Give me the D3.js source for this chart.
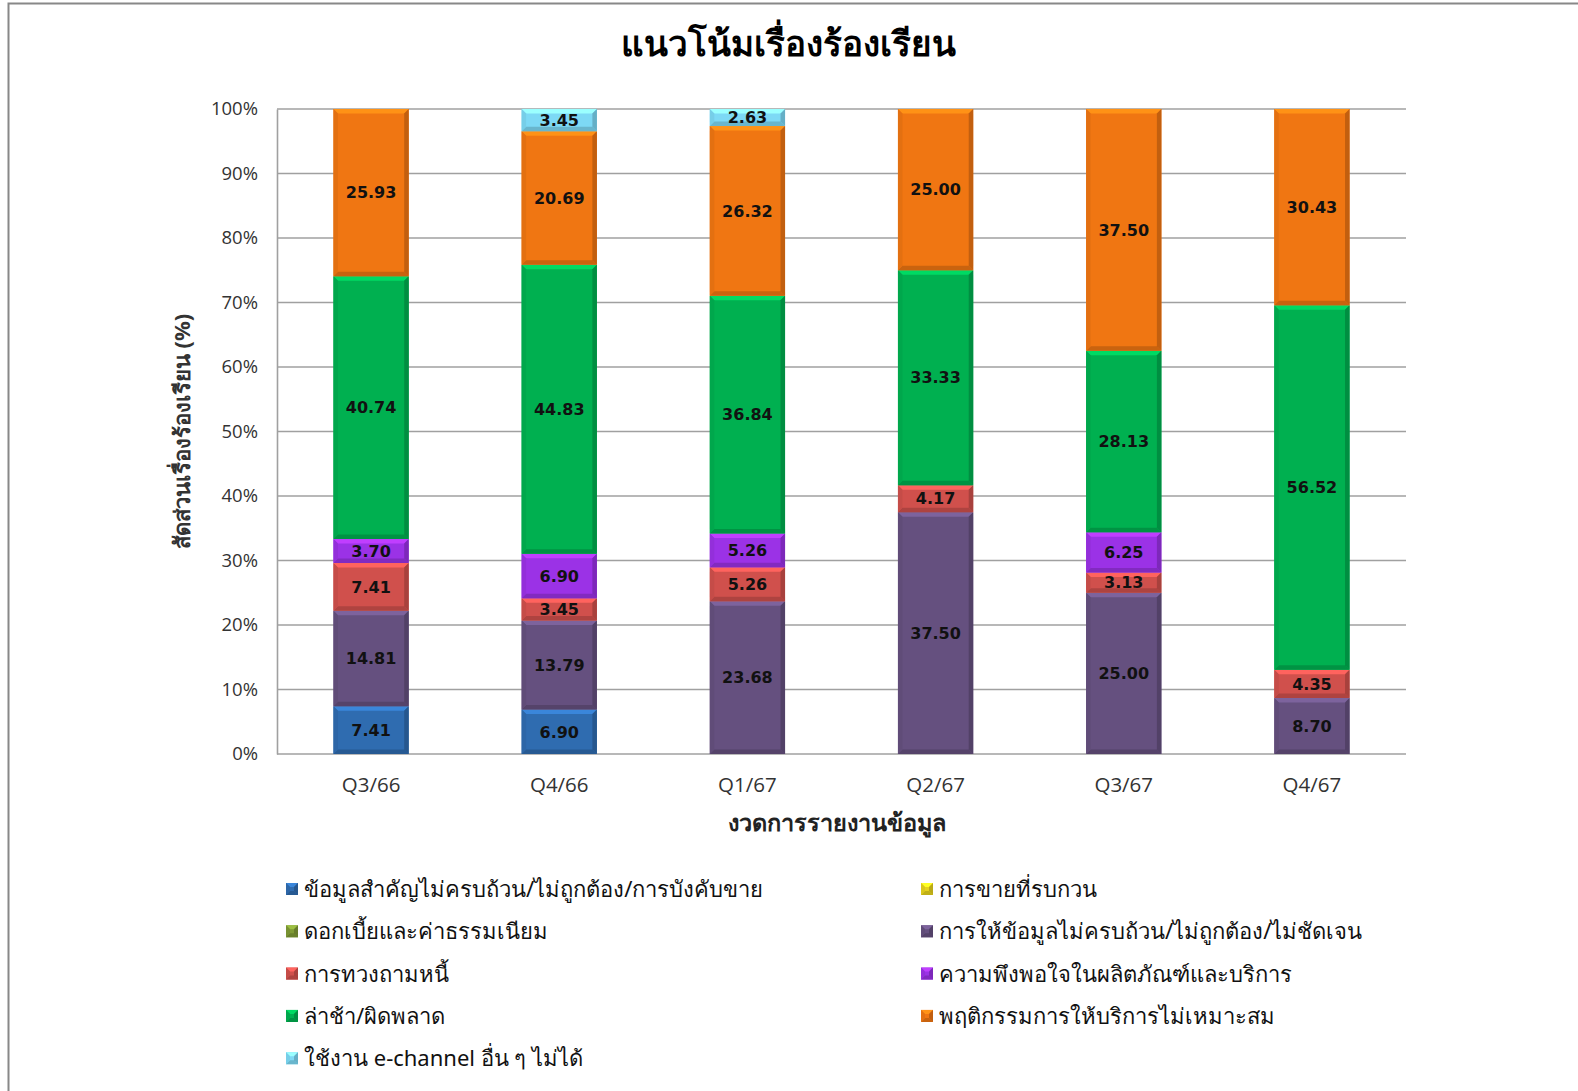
<!DOCTYPE html>
<html>
<head>
<meta charset="utf-8">
<script src="https://cdn.jsdelivr.net/npm/d3@7"></script>
<style>
  body { margin: 0; background: #fff; }
  svg { display: block; font-family: Tahoma, "Noto Sans", "DejaVu Sans", sans-serif; }
</style>
</head>
<body>
<div id="chart"></div>
<script>
// งวด
const periods = ["Q3/66", "Q4/66", "Q1/67", "Q2/67", "Q3/67", "Q4/67"];

// ชื่อชุดข้อมูล (ตามลำดับการซ้อนจากล่างขึ้นบน)
const seriesNames = [
    "ข้อมูลสำคัญไม่ครบถ้วน/ไม่ถูกต้อง/การบังคับขาย",
    "การขายที่รบกวน",
    "ดอกเบี้ยและค่าธรรมเนียม",
    "การให้ข้อมูลไม่ครบถ้วน/ไม่ถูกต้อง/ไม่ชัดเจน",
    "การทวงถามหนี้",
    "ความพึงพอใจในผลิตภัณฑ์และบริการ",
    "ล่าช้า/ผิดพลาด",
    "พฤติกรรมการให้บริการไม่เหมาะสม",
    "ใช้งาน e-channel อื่น ๆ ไม่ได้"
];
const seriesColors = ["#2f6cb0", "#e6d21c", "#7f9a35", "#65507f", "#d0504c", "#9b32e6", "#00b050", "#f07612", "#7dd9f5"];

// ค่าของแต่ละชุด (%)
const keyInfoValues   = [7.41, 6.90, 0, 0, 0, 0];
const disturbValues   = [0, 0, 0, 0, 0, 0];
const feeValues       = [0, 0, 0, 0, 0, 0];
const infoValues      = [14.81, 13.79, 23.68, 37.50, 25.00, 8.70];
const debtValues      = [7.41, 3.45, 5.26, 4.17, 3.13, 4.35];
const satisfyValues   = [3.70, 6.90, 5.26, 0, 6.25, 0];
const delayValues     = [40.74, 44.83, 36.84, 33.33, 28.13, 56.52];
const behaviorValues  = [25.93, 20.69, 26.32, 25.00, 37.50, 30.43];
const eChannelValues  = [0, 3.45, 2.63, 0, 0, 0];

const yTicks = [0, 10, 20, 30, 40, 50, 60, 70, 80, 90, 100];

const allValues = [keyInfoValues, disturbValues, feeValues, infoValues, debtValues,
    satisfyValues, delayValues, behaviorValues, eChannelValues];

const width = 1578, height = 1091;
const margin = { top: 109, right: 172, bottom: 337, left: 277 };
const numFont = "'Open Sans', sans-serif";

const svg = d3.select("#chart").append("svg")
    .attr("width", width)
    .attr("height", height);

// กรอบของแผนภูมิ
svg.append("rect")
    .attr("x", 8.5).attr("y", 3.5)
    .attr("width", width).attr("height", height)
    .attr("fill", "#fff")
    .attr("stroke", "#888").attr("stroke-width", 2);

// ตารางข้อมูลสำหรับ d3.stack
const table = periods.map((p, i) => {
    const row = { period: p };
    seriesNames.forEach((s, j) => { row[s] = allValues[j][i]; });
    return row;
});
const stacked = d3.stack().keys(seriesNames)(table);

const x = d3.scaleBand()
    .domain(periods)
    .range([margin.left, width - margin.right])
    .paddingInner(0.6).paddingOuter(0.3);

const y = d3.scaleLinear()
    .domain([0, 100])
    .range([height - margin.bottom, margin.top]);

// เส้นกริด
svg.append("g")
    .selectAll("line")
    .data(yTicks)
    .join("line")
    .attr("x1", margin.left).attr("x2", width - margin.right)
    .attr("y1", d => y(d)).attr("y2", d => y(d))
    .attr("stroke", "#a0a0a0").attr("stroke-width", 1.6);

// แกน y
const yAxis = svg.append("g")
    .attr("transform", `translate(${margin.left},0)`)
    .call(d3.axisLeft(y).tickValues(yTicks).tickFormat(d => d + "%").tickSize(0).tickPadding(19));
yAxis.select(".domain").attr("stroke", "#a0a0a0").attr("stroke-width", 1.6);
yAxis.selectAll("text").attr("font-size", 18.5).attr("fill", "#333")
    .attr("font-family", numFont);

// แกน x
const xAxis = svg.append("g")
    .attr("transform", `translate(0,${height - margin.bottom})`)
    .call(d3.axisBottom(x).tickSize(0).tickPadding(23));
xAxis.select(".domain").remove();
xAxis.selectAll("text").attr("font-size", 20.5).attr("fill", "#333")
    .attr("font-family", numFont);

// ใส่เอฟเฟกต์มุมเอียงให้แท่ง
function bevel(g, x0, y0, w, h, color) {
    const b = Math.min(4.5, h / 3, w / 3);
    const c = d3.color(color);
    g.append("rect").attr("x", x0).attr("y", y0).attr("width", w).attr("height", h).attr("fill", color);
    g.append("polygon")
        .attr("points", [[x0, y0], [x0 + w, y0], [x0 + w - b, y0 + b], [x0 + b, y0 + b]].join(" "))
        .attr("fill", c.brighter(0.6));
    g.append("polygon")
        .attr("points", [[x0, y0 + h], [x0 + w, y0 + h], [x0 + w - b, y0 + h - b], [x0 + b, y0 + h - b]].join(" "))
        .attr("fill", c.darker(0.5));
    g.append("polygon")
        .attr("points", [[x0, y0], [x0 + b, y0 + b], [x0 + b, y0 + h - b], [x0, y0 + h]].join(" "))
        .attr("fill", c.darker(0.15));
    g.append("polygon")
        .attr("points", [[x0 + w, y0], [x0 + w - b, y0 + b], [x0 + w - b, y0 + h - b], [x0 + w, y0 + h]].join(" "))
        .attr("fill", c.darker(0.6));
}

// แท่งข้อมูล
stacked.forEach((layer, j) => {
    const g = svg.append("g");
    layer.forEach(d => {
        const v = d[1] - d[0];
        if (v <= 0) return;
        bevel(g, x(d.data.period), y(d[1]), x.bandwidth(), y(d[0]) - y(d[1]), seriesColors[j]);
    });
});

// ป้ายค่า
stacked.forEach((layer, j) => {
    svg.append("g")
        .selectAll("text")
        .data(layer.filter(d => d[1] - d[0] > 0))
        .join("text")
        .attr("x", d => x(d.data.period) + x.bandwidth() / 2)
        .attr("y", d => (y(d[0]) + y(d[1])) / 2)
        .attr("dy", "0.36em")
        .attr("text-anchor", "middle")
        .attr("font-size", 16).attr("font-weight", "bold").attr("fill", "#111")
        .attr("font-family", "'DejaVu Sans', sans-serif")
        .text(d => (d[1] - d[0]).toFixed(2));
});

// ชื่อแผนภูมิ
svg.append("text")
    .attr("x", 788).attr("y", 56)
    .attr("text-anchor", "middle")
    .attr("font-size", 35).attr("font-weight", "bold").attr("fill", "#000")
    .text("แนวโน้มเรื่องร้องเรียน");

// ชื่อแกน
svg.append("text")
    .attr("transform", `translate(190,${(margin.top + height - margin.bottom) / 2}) rotate(-90)`)
    .attr("text-anchor", "middle")
    .attr("font-size", 22).attr("font-weight", "bold").attr("fill", "#333")
    .text("สัดส่วนเรื่องร้องเรียน (%)");

svg.append("text")
    .attr("x", 837).attr("y", 831)
    .attr("text-anchor", "middle")
    .attr("font-size", 23.5).attr("font-weight", "bold").attr("fill", "#222")
    .text("งวดการรายงานข้อมูล");

// คำอธิบายสัญลักษณ์
const legend = svg.append("g");
seriesNames.forEach((s, i) => {
    const col = i % 2, row = Math.floor(i / 2);
    const lx = col === 0 ? 286 : 921;
    const ly = 889 + row * 42.3;
    bevel(legend, lx, ly - 6, 12, 12, seriesColors[i]);
    legend.append("text")
        .attr("x", lx + 18).attr("y", ly)
        .attr("dy", "0.36em")
        .attr("font-size", 22).attr("fill", "#111")
        .text(s);
});
</script>
</body>
</html>
